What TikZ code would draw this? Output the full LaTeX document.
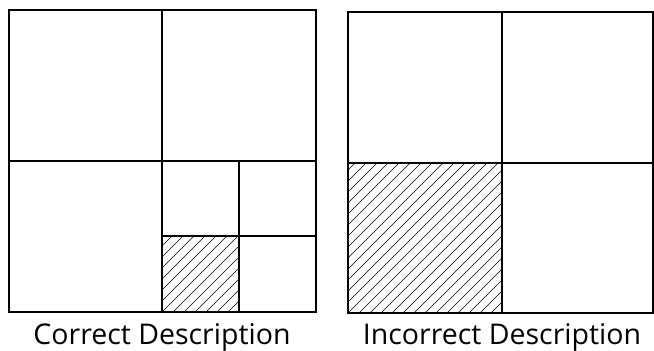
\documentclass[tikz,border=0pt]{standalone}
\usepackage{fontspec}
\setmainfont{Open Sans}
\tikzstyle{box}=[draw=black, line width=1.2pt]
\tikzstyle{hatch}=[draw=black, line width=.5pt]
\tikzstyle{caption}=[anchor=base, inner sep=0pt, font=\fontsize{28.5}{32}\selectfont]

\begin{document}
\begin{tikzpicture}[x=1pt, y=-1pt]
  \useasboundingbox (0,0) rectangle (654,351);
  % left square, hatched cell
  \begin{scope}
    \clip (162,236) rectangle (239,312);
    \foreach \i in {-77,-66,...,80} \draw[hatch] (162+\i,312) -- ++(90,-90);
  \end{scope}
  \draw[box] (9,10) rectangle (316,312);
  \draw[box] (162,10) -- (162,312);
  \draw[box] (9,161) -- (316,161);
  \draw[box] (239,161) -- (239,312);
  \draw[box] (162,236) -- (316,236);
  \node[caption] (correct) at (162,344) {Correct Description};
  % right square, hatched cell
  \begin{scope}
    \clip (348,163) rectangle (502,313);
    \foreach \i in {-154,-143,...,155} \draw[hatch] (348+\i,313) -- ++(160,-160);
  \end{scope}
  \draw[box] (348,12) rectangle (653,313);
  \draw[box] (502,12) -- (502,313);
  \draw[box] (348,163) -- (653,163);
  \node[caption] (incorrect) at (502,344) {Incorrect Description};
\end{tikzpicture}
\end{document}
